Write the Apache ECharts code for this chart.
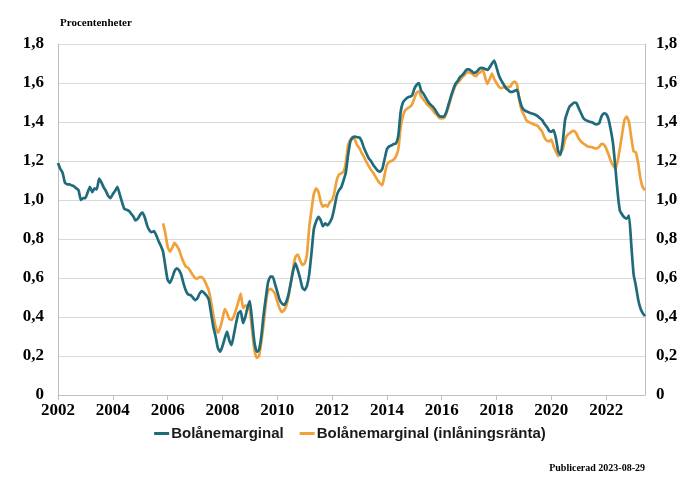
<!DOCTYPE html>
<html>
<head>
<meta charset="utf-8">
<script src="https://cdn.jsdelivr.net/npm/echarts@6/dist/echarts.min.js"></script>
<style>
  html, body { margin: 0; padding: 0; background: #ffffff; }
  #chart { width: 700px; height: 487px; }
</style>
</head>
<body>
<div id="chart"></div>
<script>
// ---- Data (monthly) ----
const startYear = 2002;            // first month: 2002-01
const yTicks = [0, 0.2, 0.4, 0.6, 0.8, 1.0, 1.2, 1.4, 1.6, 1.8];
const yearTicks = ['2002','2004','2006','2008','2010','2012','2014','2016','2018','2020','2022'];
const seriesNames = ['Bolånemarginal', 'Bolånemarginal (inlåningsränta)'];

// Bolånemarginal, 2002-01 .. 2023-06
const bolanemarginal = [
  1.19, 1.16, 1.14, 1.09, 1.08, 1.08, 1.075, 1.07, 1.06, 1.05, 1.0, 1.01,
  1.01, 1.04, 1.068, 1.04, 1.06, 1.055, 1.11, 1.09, 1.065, 1.045, 1.02, 1.01,
  1.03, 1.047, 1.068, 1.03, 0.99, 0.955, 0.95, 0.945, 0.93, 0.915, 0.895, 0.905,
  0.925, 0.935, 0.91, 0.87, 0.845, 0.835, 0.84, 0.82, 0.79, 0.765, 0.735, 0.66,
  0.59, 0.575, 0.60, 0.635, 0.65, 0.64, 0.615, 0.57, 0.535, 0.515, 0.513, 0.50,
  0.487, 0.495, 0.52, 0.533, 0.523, 0.51, 0.49, 0.42, 0.35, 0.30, 0.24, 0.222,
  0.25, 0.29, 0.325, 0.28, 0.256, 0.31, 0.37, 0.42, 0.43, 0.37, 0.40, 0.45,
  0.482, 0.38, 0.27, 0.222, 0.23, 0.30, 0.41, 0.50, 0.58, 0.607, 0.607, 0.57,
  0.53, 0.49, 0.47, 0.462, 0.48, 0.52, 0.58, 0.64, 0.675, 0.64, 0.598, 0.55,
  0.538, 0.56, 0.62, 0.73, 0.85, 0.89, 0.914, 0.897, 0.865, 0.88, 0.87, 0.885,
  0.91, 0.96, 1.02, 1.05, 1.065, 1.10, 1.14, 1.23, 1.30, 1.32, 1.325, 1.322,
  1.32, 1.30, 1.265, 1.24, 1.215, 1.20, 1.18, 1.165, 1.15, 1.145, 1.16, 1.21,
  1.26, 1.275, 1.28, 1.287, 1.29, 1.33, 1.45, 1.50, 1.515, 1.525, 1.53, 1.535,
  1.57, 1.59, 1.60, 1.56, 1.545, 1.525, 1.505, 1.49, 1.48, 1.465, 1.445, 1.43,
  1.428, 1.428, 1.45, 1.49, 1.53, 1.565, 1.595, 1.61, 1.63, 1.64, 1.655, 1.67,
  1.67, 1.662, 1.652, 1.655, 1.667, 1.678, 1.676, 1.672, 1.667, 1.68, 1.70, 1.715,
  1.68, 1.64, 1.615, 1.595, 1.575, 1.565, 1.555, 1.555, 1.56, 1.565, 1.52, 1.48,
  1.462, 1.455, 1.45, 1.445, 1.442, 1.437, 1.43, 1.42, 1.41, 1.39, 1.376, 1.355,
  1.35, 1.359, 1.316, 1.25, 1.231, 1.30, 1.41, 1.45, 1.48, 1.49, 1.50, 1.497,
  1.47, 1.445, 1.42, 1.41, 1.405, 1.40, 1.398, 1.39, 1.388, 1.395, 1.43, 1.445,
  1.44, 1.415, 1.36, 1.29, 1.17, 1.04, 0.945, 0.925, 0.91, 0.905, 0.92, 0.77,
  0.62, 0.56, 0.49, 0.445, 0.42, 0.405
];

// Bolånemarginal (inlåningsränta), starts 2005-11
const inlaningStart = '2005-11';
const bolanemarginalInlaning = [
  0.88, 0.83,
  0.76, 0.735, 0.755, 0.78, 0.765, 0.745, 0.71, 0.68, 0.658, 0.652, 0.635, 0.615,
  0.600, 0.597, 0.605, 0.605, 0.59, 0.565, 0.535, 0.48, 0.41, 0.35, 0.32, 0.345,
  0.39, 0.44, 0.42, 0.39, 0.385, 0.405, 0.44, 0.48, 0.52, 0.445, 0.46, 0.45,
  0.435, 0.33, 0.23, 0.19, 0.20, 0.27, 0.36, 0.47, 0.535, 0.545, 0.535, 0.52,
  0.48, 0.445, 0.425, 0.435, 0.46, 0.51, 0.58, 0.655, 0.71, 0.72, 0.69, 0.667,
  0.675, 0.72, 0.86, 0.95, 1.03, 1.06, 1.043, 0.992, 0.966, 0.974, 0.966, 0.99,
  1.0, 1.04, 1.10, 1.13, 1.137, 1.145, 1.19, 1.28, 1.31, 1.322, 1.308, 1.28,
  1.265, 1.24, 1.22, 1.195, 1.175, 1.155, 1.14, 1.12, 1.10, 1.085, 1.075, 1.13,
  1.18, 1.195, 1.20, 1.207, 1.225, 1.26, 1.37, 1.43, 1.46, 1.47, 1.477, 1.49,
  1.52, 1.55, 1.557, 1.53, 1.515, 1.50, 1.485, 1.475, 1.462, 1.445, 1.435, 1.42,
  1.419, 1.42, 1.445, 1.48, 1.52, 1.555, 1.586, 1.60, 1.615, 1.63, 1.641, 1.655,
  1.655, 1.65, 1.64, 1.635, 1.65, 1.655, 1.667, 1.63, 1.595, 1.62, 1.648, 1.62,
  1.60, 1.581, 1.573, 1.578, 1.581, 1.58, 1.581, 1.60, 1.607, 1.59, 1.51, 1.46,
  1.436, 1.41, 1.40, 1.395, 1.39, 1.385, 1.38, 1.365, 1.35, 1.32, 1.305, 1.30,
  1.31, 1.274, 1.248, 1.225, 1.245, 1.26, 1.31, 1.333, 1.342, 1.352, 1.355, 1.34,
  1.315, 1.30, 1.29, 1.282, 1.274, 1.272, 1.27, 1.265, 1.264, 1.274, 1.288, 1.285,
  1.265, 1.235, 1.20, 1.178, 1.162, 1.197, 1.265, 1.34, 1.41, 1.428, 1.40, 1.32,
  1.25, 1.244, 1.19, 1.11, 1.065, 1.05
];

// ---- Build category axis (months) ----
const months = [];
for (let i = 0; i < bolanemarginal.length; i++) {
  const y = startYear + Math.floor(i / 12);
  const m = (i % 12) + 1;
  months.push(y + '-' + (m < 10 ? '0' + m : '' + m));
}
const startIdx = months.indexOf(inlaningStart);
const inlaningData = months.map((_, i) => (i >= startIdx ? bolanemarginalInlaning[i - startIdx] : null));

const isYearTick = (idx) => {
  const c = months[idx];
  return c.slice(5) === '01' && yearTicks.indexOf(c.slice(0, 4)) >= 0;
};
const fmtY = (v) => {
  const r = Math.round(v * 10) / 10;
  return r === 0 ? '0' : r.toFixed(1).replace('.', ',');
};

const serif = "'Liberation Serif', 'Times New Roman', serif";
const sans = "'Liberation Sans', Arial, sans-serif";
const blue = '#1f6b7b';
const orange = '#f0a13a';

const yLabel = { fontFamily: serif, fontWeight: 'bold', fontSize: 17, color: '#000', formatter: fmtY };

const chart = echarts.init(document.getElementById('chart'), null, { renderer: 'canvas' });
chart.setOption({
  animation: false,
  backgroundColor: '#ffffff',
  title: [
    { text: 'Procentenheter', left: 60, top: 18, padding: 0,
      textStyle: { fontFamily: serif, fontWeight: 'bold', fontSize: 11, color: '#000' } },
    { text: 'Publicerad 2023-08-29', right: 55, top: 463, padding: 0,
      textStyle: { fontFamily: serif, fontWeight: 'bold', fontSize: 10, color: '#000' } }
  ],
  legend: {
    data: seriesNames,
    left: 'center', top: 421,
    icon: 'rect', itemWidth: 15, itemHeight: 3, itemGap: 16,
    textStyle: { fontFamily: sans, fontSize: 15, fontWeight: 'bold', color: '#1a1a1a', padding: [0, 0, 0, -3] }
  },
  grid: { left: 58, right: 55, top: 44, bottom: 92, containLabel: false },
  xAxis: {
    type: 'category',
    data: months,
    boundaryGap: false,
    axisLine: { show: true, lineStyle: { color: '#bfbfbf', width: 1 } },
    axisTick: { show: true, length: 5, interval: (i) => isYearTick(i), lineStyle: { color: '#bfbfbf' } },
    axisLabel: {
      interval: (i) => isYearTick(i),
      formatter: (v) => v.slice(0, 4),
      fontFamily: serif, fontWeight: 'bold', fontSize: 17, color: '#000', margin: 7
    },
    splitLine: { show: false }
  },
  yAxis: [
    {
      type: 'value', min: yTicks[0], max: yTicks[yTicks.length - 1], interval: 0.2,
      axisLine: { show: true, lineStyle: { color: '#bfbfbf' } },
      axisTick: { show: false },
      splitLine: { show: true, lineStyle: { color: '#d9d9d9', width: 1 } },
      axisLabel: Object.assign({ margin: 14 }, yLabel)
    },
    {
      type: 'value', position: 'right', min: yTicks[0], max: yTicks[yTicks.length - 1], interval: 0.2,
      axisLine: { show: true, lineStyle: { color: '#bfbfbf' } },
      axisTick: { show: false },
      splitLine: { show: false },
      axisLabel: Object.assign({ margin: 11 }, yLabel)
    }
  ],
  series: [
    {
      name: seriesNames[0], type: 'line', data: bolanemarginal, yAxisIndex: 0,
      showSymbol: false, symbol: 'none', smooth: 0.15,
      lineStyle: { color: blue, width: 2.7, join: 'round' }, itemStyle: { color: blue }, z: 3
    },
    {
      name: seriesNames[1], type: 'line', data: inlaningData, yAxisIndex: 0,
      showSymbol: false, symbol: 'none', smooth: 0.15,
      lineStyle: { color: orange, width: 2.7, join: 'round' }, itemStyle: { color: orange }, z: 2
    }
  ]
});
</script>
</body>
</html>
